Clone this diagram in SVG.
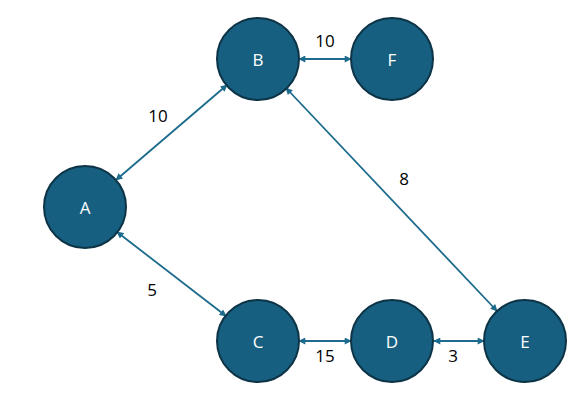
<svg xmlns="http://www.w3.org/2000/svg" width="583" height="410" viewBox="0 0 583 410">
<style>
.node circle{fill:#175f80;stroke:#0d3446;stroke-width:2}
.node text{fill:#ffffff;font-family:"Open Sans","Liberation Sans",sans-serif;font-size:17px;text-anchor:middle;dominant-baseline:central}
.edges line{stroke:#1c6a8c;stroke-width:1.8;marker-start:url(#ah);marker-end:url(#ah)}
.lbl{fill:#000000;font-family:"Open Sans","Liberation Sans",sans-serif;font-size:17px;text-anchor:middle;dominant-baseline:central}
</style>
<defs>
<marker id="ah" viewBox="0 0 10 10" refX="9" refY="5" markerWidth="8" markerHeight="7" markerUnits="userSpaceOnUse" orient="auto-start-reverse">
<path d="M0,0 L10,5 L0,10 z" fill="#1c6a8c"/>
</marker>
</defs>
<rect width="583" height="410" fill="#ffffff"/>
<g class="edges" id="connectors">
<line x1="116" y1="180" x2="227" y2="85"/>
<line x1="286" y1="88" x2="497" y2="311"/>
<line x1="117" y1="232" x2="226" y2="316"/>
<line x1="299" y1="59" x2="351" y2="59"/>
<line x1="299" y1="341" x2="351" y2="341"/>
<line x1="434" y1="341" x2="484" y2="341"/>
</g>
<g id="labels">
<text class="lbl" x="158" y="115">10</text>
<text class="lbl" x="325" y="40">10</text>
<text class="lbl" x="404" y="178">8</text>
<text class="lbl" x="152" y="289">5</text>
<text class="lbl" x="325" y="355">15</text>
<text class="lbl" x="453" y="355">3</text>
</g>
<g class="node" id="node-A"><circle cx="85" cy="207" r="41"/><text x="85" y="207">A</text></g>
<g class="node" id="node-B"><circle cx="258" cy="59" r="41"/><text x="258" y="59">B</text></g>
<g class="node" id="node-F"><circle cx="392" cy="59" r="41"/><text x="392" y="59">F</text></g>
<g class="node" id="node-C"><circle cx="258" cy="341" r="41"/><text x="258" y="341">C</text></g>
<g class="node" id="node-D"><circle cx="392" cy="341" r="41"/><text x="392" y="341">D</text></g>
<g class="node" id="node-E"><circle cx="525" cy="341" r="41"/><text x="525" y="341">E</text></g>
</svg>
